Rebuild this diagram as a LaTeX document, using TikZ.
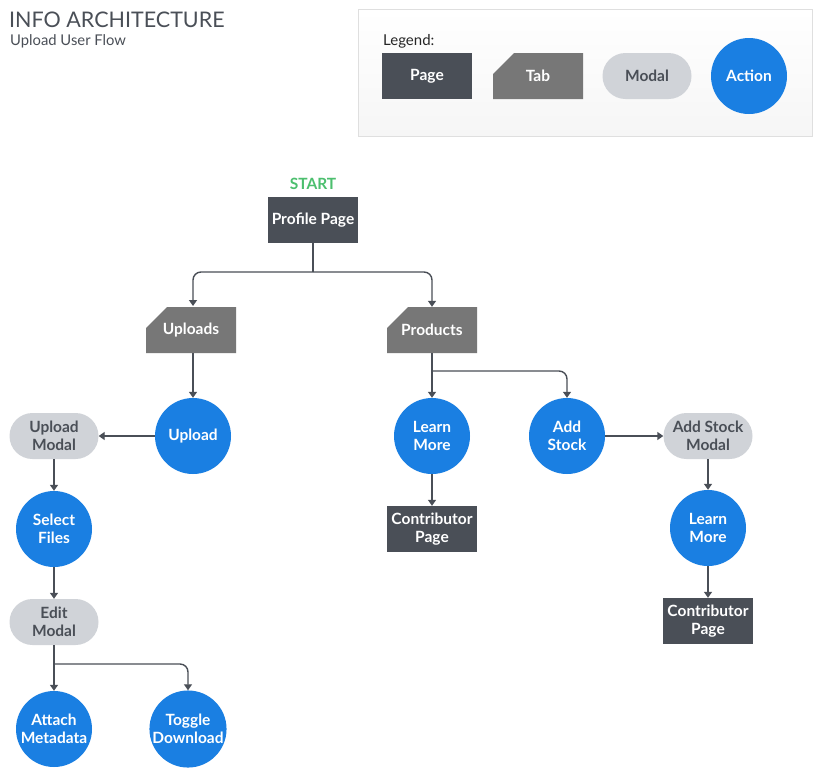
\documentclass[tikz,border=0pt]{standalone}
\usepackage{fontspec}
\setmainfont{Lato}
\usepackage{xcolor}
\usetikzlibrary{arrows.meta}
\definecolor{pagegray}{HTML}{4A4F57}
\definecolor{tabgray}{HTML}{777777}
\definecolor{modalgray}{HTML}{D0D3D8}
\definecolor{actionblue}{HTML}{1A7FE2}
\definecolor{startgreen}{HTML}{4CBF6E}
\tikzset{
	box/.style={minimum width=90pt, minimum height=46pt, inner sep=1pt, align=center,
			font=\fontsize{15.5}{18.5}\selectfont\bfseries, text=white},
	page/.style={box, fill=pagegray},
	tab/.style={box, path picture={
					\fill[tabgray] ([xshift=21pt]path picture bounding box.north west) -- (path picture bounding box.north east)
					-- (path picture bounding box.south east) -- (path picture bounding box.south west)
					-- ([yshift=-21pt]path picture bounding box.north west) -- cycle;}},
	modal/.style={box, minimum width=89pt, fill=modalgray, text=pagegray, rounded corners=23pt},
	action/.style={box, circle, minimum size=76pt, inner sep=0pt, fill=actionblue},
	flow/.style={draw=pagegray, line width=1.4pt, rounded corners=8pt},
	arr/.style={flow, -{Triangle[length=6pt,width=8pt]}}
}

\begin{document}
\begin{tikzpicture}[x=1pt,y=-1pt]
		\useasboundingbox[fill=white] (0,0) rectangle (822,777);
		% title
		\node[anchor=base west, inner sep=0pt, text=pagegray, font=\fontsize{21.5}{24}\selectfont] (title) at (9,27) {INFO ARCHITECTURE};
		\node[anchor=base west, inner sep=0pt, text=pagegray, font=\fontsize{14.8}{17}\selectfont] (subtitle) at (10,45) {Upload User Flow};
		% legend
		\draw[draw=gray!25, top color=white, bottom color=gray!7, line width=1pt] (358,9) rectangle (812,136);
		\node[anchor=base west, inner sep=0pt, text=black!85, font=\fontsize{15}{17}\selectfont] (legend) at (383,45) {Legend:};
		\node[page] (lpage) at (427,76) {Page};
		\node[tab] (ltab) at (538,76) {Tab};
		\node[modal] (lmodal) at (647,76) {Modal};
		\node[action] (laction) at (749,76) {Action};
		% main flow
		\node[text=startgreen, font=\fontsize{15.5}{17}\selectfont\bfseries] (start) at (313,184) {START};
		\node[page] (profile) at (313,220) {Profile Page};
		\node[tab] (uploads) at (191,330) {Uploads};
		\node[tab] (products) at (432,330) {Products};
		\node[action] (upload) at (193,436) {Upload};
		\node[modal] (upmodal) at (54,436) {Upload\\Modal};
		\node[action] (select) at (54,529) {Select\\Files};
		\node[modal] (editmodal) at (54,622) {Edit\\Modal};
		\node[action] (attach) at (54,729) {Attach\\Metadata};
		\node[action] (toggle) at (188,729) {Toggle\\Download};
		\node[action] (learnA) at (432,436) {Learn\\More};
		\node[page] (contribA) at (432,529) {Contributor\\Page};
		\node[action] (addstock) at (567,436) {Add\\Stock};
		\node[modal] (stockmodal) at (708,436) {Add Stock\\Modal};
		\node[action] (learnB) at (708,528) {Learn\\More};
		\node[page] (contribB) at (708,621) {Contributor\\Page};

		\coordinate (split) at (313,272);
		\coordinate (prodsplit) at (432,371);
		\coordinate (editsplit) at (54,664);

		\draw[flow] (profile) -- (split);
		\draw[arr] (split) -| (193,306);
		\draw[arr] (split) -| (products);
		\draw[arr] (193,353) -- (upload);
		\draw[arr] (upload) -- (upmodal);
		\draw[arr] (upmodal) -- (select);
		\draw[arr] (select) -- (editmodal);
		\draw[arr] (editmodal) -- (attach);
		\draw[arr] (editsplit) -| (toggle);
		\draw[arr] (products) -- (learnA);
		\draw[arr] (prodsplit) -| (addstock);
		\draw[arr] (learnA) -- (contribA);
		\draw[arr] (addstock) -- (stockmodal);
		\draw[arr] (stockmodal) -- (learnB);
		\draw[arr] (learnB) -- (contribB);
	\end{tikzpicture}
\end{document}
